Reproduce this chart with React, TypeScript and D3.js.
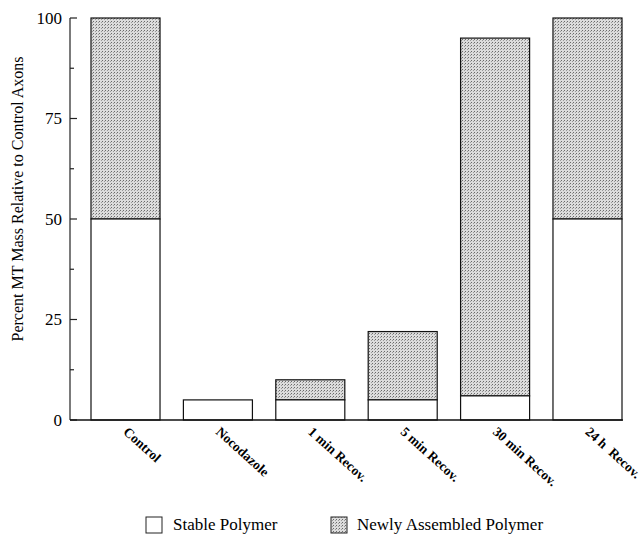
import React, { useRef, useEffect } from 'react';
import * as d3 from 'd3';

const categories = ['Control', 'Nocodazole', '1 min Recov.', '5 min Recov.', '30 min Recov.', '24 h  Recov.'];
const stable = [50, 5, 5, 5, 6, 50];
const newlyAssembled = [50, 0, 5, 17, 89, 50];
const yTicks = [0, 25, 50, 75, 100];
const yMinorTicks = [12.5, 37.5, 62.5, 87.5];

const FONT = '"Liberation Serif", "Times New Roman", serif';

function App() {
  const ref = useRef<SVGSVGElement | null>(null);

  useEffect(() => {
    if (!ref.current) return;
    const svg = d3.select(ref.current);
    svg.selectAll('*').remove();

    const width = 641;
    const height = 535;
    const axisX = 70;
    const axisEnd = 623;

    const x = d3.scaleBand()
      .domain(categories)
      .range([91, 622])
      .paddingInner(0.253)
      .paddingOuter(0);

    const y = d3.scaleLinear().domain([0, 100]).range([420, 18]);

    const defs = svg.append('defs');
    const pat = defs.append('pattern')
      .attr('id', 'stipple')
      .attr('patternUnits', 'userSpaceOnUse')
      .attr('width', 3)
      .attr('height', 3);
    pat.append('rect').attr('width', 3).attr('height', 3).attr('fill', '#dcdcdc');
    pat.append('rect').attr('x', 0).attr('y', 0).attr('width', 1).attr('height', 1).attr('fill', '#6a6a6a');
    pat.append('rect').attr('x', 2).attr('y', 1).attr('width', 1).attr('height', 1).attr('fill', '#9a9a9a');

    svg.append('rect').attr('width', width).attr('height', height).attr('fill', '#fff');

    const data = categories.map((c, i) => ({ c, s: stable[i], n: newlyAssembled[i] }));

    // stacked bars
    const g = svg.append('g');
    g.selectAll('rect.new')
      .data(data.filter(d => d.n > 0))
      .enter().append('rect')
      .attr('class', 'new')
      .attr('x', d => x(d.c)!)
      .attr('y', d => y(d.s + d.n))
      .attr('width', x.bandwidth())
      .attr('height', d => y(d.s) - y(d.s + d.n))
      .attr('fill', 'url(#stipple)')
      .attr('stroke', '#111')
      .attr('stroke-width', 1.2);

    g.selectAll('rect.stable')
      .data(data)
      .enter().append('rect')
      .attr('class', 'stable')
      .attr('x', d => x(d.c)!)
      .attr('y', d => y(d.s))
      .attr('width', x.bandwidth())
      .attr('height', d => y(0) - y(d.s))
      .attr('fill', '#fff')
      .attr('stroke', '#111')
      .attr('stroke-width', 1.2);

    // y axis
    const axis = svg.append('g').attr('stroke', '#222').attr('stroke-width', 1.2);
    axis.append('line')
      .attr('x1', axisX).attr('x2', axisX)
      .attr('y1', y(100)).attr('y2', y(0));
    axis.selectAll('line.major')
      .data(yTicks)
      .enter().append('line')
      .attr('x1', axisX).attr('x2', axisX + 7)
      .attr('y1', d => y(d)).attr('y2', d => y(d));
    axis.selectAll('line.minor')
      .data(yMinorTicks)
      .enter().append('line')
      .attr('x1', axisX).attr('x2', axisX + 4)
      .attr('y1', d => y(d)).attr('y2', d => y(d));

    svg.selectAll('text.ytick')
      .data(yTicks)
      .enter().append('text')
      .attr('x', axisX - 8)
      .attr('y', d => y(d))
      .attr('dy', '0.35em')
      .attr('text-anchor', 'end')
      .attr('font-family', FONT)
      .attr('font-size', 17)
      .text(d => d);

    // x axis
    svg.append('line')
      .attr('x1', axisX).attr('x2', axisEnd)
      .attr('y1', y(0)).attr('y2', y(0))
      .attr('stroke', '#111')
      .attr('stroke-width', 1.6);

    svg.selectAll('text.xlab')
      .data(categories)
      .enter().append('text')
      .attr('transform', d => `translate(${x(d)! + x.bandwidth() / 2 - 3}, 433) rotate(42)`)
      .attr('text-anchor', 'start')
      .attr('font-family', FONT)
      .attr('font-size', 13.5)
      .attr('font-weight', 'bold')
      .attr('xml:space', 'preserve')
      .style('white-space', 'pre')
      .text(d => d);

    // y title
    svg.append('text')
      .attr('transform', `translate(23, 199) rotate(-90)`)
      .attr('text-anchor', 'middle')
      .attr('font-family', FONT)
      .attr('font-size', 16)
      .text('Percent MT Mass Relative to Control Axons');

    // legend
    const legend = [
      { label: 'Stable Polymer', fill: '#fff', bx: 146, tx: 173 },
      { label: 'Newly Assembled Polymer', fill: 'url(#stipple)', bx: 331, tx: 357 },
    ];
    const lg = svg.append('g');
    lg.selectAll('rect')
      .data(legend)
      .enter().append('rect')
      .attr('x', d => d.bx)
      .attr('y', 517)
      .attr('width', 16)
      .attr('height', 16)
      .attr('fill', d => d.fill)
      .attr('stroke', '#222')
      .attr('stroke-width', 1);
    lg.selectAll('text')
      .data(legend)
      .enter().append('text')
      .attr('x', d => d.tx)
      .attr('y', 530)
      .attr('font-family', FONT)
      .attr('font-size', 17)
      .text(d => d.label);
  }, []);

  return (
    <svg ref={ref} width={641} height={535} style={{ position: 'absolute', left: 0, top: 0, display: 'block' }} />
  );
}

export default App;
